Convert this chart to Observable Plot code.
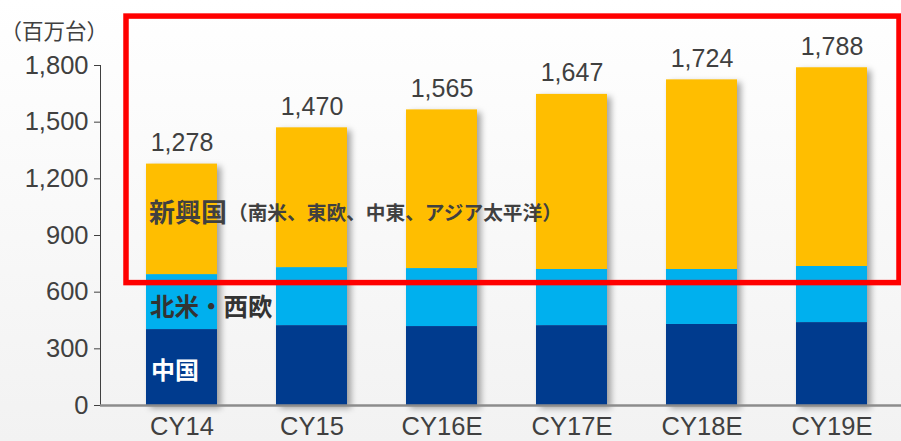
<!DOCTYPE html>
<html><head><meta charset="utf-8">
<script src="https://cdn.jsdelivr.net/npm/d3@7"></script>
<script src="https://cdn.jsdelivr.net/npm/@observablehq/plot@0.6"></script>
<style>
html,body{margin:0;padding:0;}
body{width:901px;height:441px;background:linear-gradient(#ffffff,#f2f2f2);overflow:hidden;}
svg{overflow:visible;}
</style></head><body><div id="chart"></div>
<script>
const years = ["CY14","CY15","CY16E","CY17E","CY18E","CY19E"];
const china = [402,423,418,423,429,439];
const naWe = [291,307,307,297,291,297];
const emerging = [585,740,840,927,1004,1052];
const totals = [1278,1470,1565,1647,1724,1788];
const segments = ["中国","北米・西欧","新興国"];
const emergingDetail = "（南米、東欧、中東、アジア太平洋）";
const unitLabel = "（百万台）";
const yTicks = [0,300,600,900,1200,1500,1800];
const highlight = {from: 648, to: 2059};

const colors = ["#003B8E","#00B0EE","#FFBE00"];
const LATIN = "'Liberation Sans', Arial, sans-serif";
const CJK = "'Noto Sans CJK JP', sans-serif";

const rows = [];
years.forEach((yr,i)=>{
  rows.push({year:yr, seg:segments[0], v:china[i]});
  rows.push({year:yr, seg:segments[1], v:naWe[i]});
  rows.push({year:yr, seg:segments[2], v:emerging[i]});
});
const totalRows = years.map((yr,i)=>({year:yr, total:totals[i]}));

const chart = Plot.plot({
  width: 901, height: 441,
  marginLeft: 100, marginRight: 0, marginTop: 65, marginBottom: 36,
  x: {domain: years, range: [100, 912.7], paddingInner: 0.455, paddingOuter: 0.345, label: null, tickSize: 0, tickPadding: 11},
  y: {domain: [0,1800], ticks: yTicks, tickFormat: d3.format(","), label: null, tickSize: 6, tickPadding: 6, line: true},
  color: {domain: segments, range: colors},
  style: {fontFamily: LATIN, fontSize: "25.5px", color: "#404040", background: "transparent", overflow: "visible"},
  marks: [
    Plot.barY(rows, {x:"year", y:"v", fill:"seg"}),
    Plot.ruleY([0], {stroke:"#8c8c8c", strokeWidth:2.5}),
    Plot.text(totalRows, {x:"year", y:"total", text: d=>d3.format(",")(d.total), dy:-13, lineAnchor:"bottom", fontSize:25, fill:"#404040", fontFamily: LATIN}),
    Plot.text([{year: years[0], label: segments[0]}], {x:"year", y:180, text:"label", textAnchor:"start", dx:-31, fill:"white", fontWeight:"bold", fontSize:24, fontFamily: CJK}),
    Plot.text([{year: years[0], label: segments[1]}], {x:"year", y:513, text:"label", textAnchor:"start", dx:-32, fill:"#333333", fontWeight:"bold", fontSize:24.5, fontFamily: CJK}),
    Plot.text([{year: years[0], label: segments[2]}], {x:"year", y:1016, text:"label", textAnchor:"start", dx:-33, fill:"#404040", fontWeight:"bold", fontSize:26, fontFamily: CJK}),
    Plot.text([{year: years[0], label: emergingDetail}], {x:"year", y:1016, text:"label", textAnchor:"start", dx:46, fill:"#404040", fontWeight:"bold", fontSize:19.7, fontFamily: CJK}),
    Plot.rect([highlight], {y1:"from", y2:"to", fill:"none", stroke:"#FF0000", strokeWidth:5.5, insetLeft:26, insetRight:2}),
    Plot.text([unitLabel], {frameAnchor:"top-left", dx:-100, dy:-42, textAnchor:"start", fontSize:21.5, fill:"#404040", fontFamily: CJK})
  ]
});
d3.select(chart).selectAll('g[aria-label="bar"]').style("filter","drop-shadow(4px 3px 3px rgba(0,0,0,0.35))");
document.getElementById("chart").appendChild(chart);
</script></body></html>
